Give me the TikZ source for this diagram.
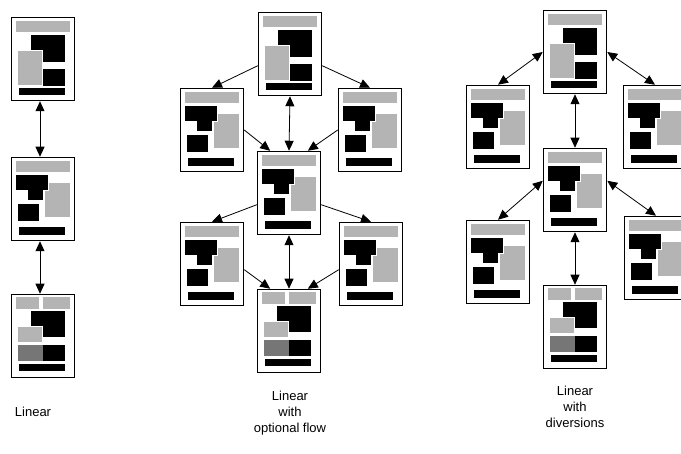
\documentclass[tikz,border=0pt]{standalone}
\usepackage{fontspec}
\setmainfont{Liberation Sans}
\usepackage{tikz}
\usetikzlibrary{arrows.meta}
\definecolor{lightshade}{RGB}{180,180,180}
\definecolor{darkshade}{RGB}{118,118,118}

% page contents, drawn from the page's top left corner (y runs down)
\newcommand{\layouta}[1]{%
    \begin{scope}[shift={(#1.north west)}]
        \fill[lightshade] (5,4) rectangle (59,15);
        \fill[black] (20,18) rectangle (54,45);
        \fill[black] (32,52) rectangle (54,69);
        \filldraw[fill=lightshade, draw=white, line width=0.6pt] (7,34) rectangle (32,69);
        \fill[black] (8,71) rectangle (54,78);
    \end{scope}}
\newcommand{\layoutb}[1]{%
    \begin{scope}[shift={(#1.north west)}]
        \fill[lightshade] (5,4) rectangle (59,15);
        \fill[lightshade] (34,26) rectangle (59,60);
        \filldraw[fill=black, draw=white, line width=0.6pt] (5,18) -| (38,34) -| (33,44) -| (17,34) -| cycle;
        \fill[black] (7,47) rectangle (28,64);
        \fill[black] (8,70) rectangle (54,78);
    \end{scope}}
\newcommand{\layoutc}[1]{%
    \begin{scope}[shift={(#1.north west)}]
        \fill[lightshade] (5,3) rectangle (28,15);
        \fill[lightshade] (32,3) rectangle (59,15);
        \fill[black] (20,17) rectangle (54,43);
        \filldraw[fill=lightshade, draw=white, line width=0.6pt] (7,33) rectangle (32,49);
        \fill[darkshade] (7,51) rectangle (32,67);
        \fill[black] (32,51) rectangle (54,67);
        \fill[black] (8,70) rectangle (54,77);
    \end{scope}}

\begin{document}
\begin{tikzpicture}[
    x=1pt, y=-1pt,
    page/.style={rectangle, draw, line width=1.5pt, fill=white, inner sep=0pt, minimum width=63pt, minimum height=83pt},
    link/.style={-{Triangle[length=10pt,width=9pt]}, line width=0.8pt},
    twoway/.style={{Triangle[length=10pt,width=9pt]}-{Triangle[length=10pt,width=9pt]}, line width=0.8pt},
    caption/.style={align=center, font=\fontsize{13}{16}\selectfont}
]
    \path[use as bounding box, clip] (0,0) rectangle (681,454);

    % linear
    \node[page] (lin1) at (43,59) {};
    \node[page] (lin2) at (43,199) {};
    \node[page] (lin3) at (43,336) {};
    \layouta{lin1}
    \layoutb{lin2}
    \layoutc{lin3}

    \draw[twoway] ([xshift=-3pt]lin1.south) -- ([xshift=-3pt]lin2.north);
    \draw[twoway] ([xshift=-3pt]lin2.south) -- ([xshift=-3pt]lin3.north);

    % linear with optional flow
    \node[page] (opt1) at (290,54) {};
    \node[page] (optl1) at (212,130) {};
    \node[page] (optr1) at (370,130) {};
    \node[page] (opt2) at (289,193) {};
    \node[page] (optl2) at (212,264) {};
    \node[page] (optr2) at (371,264) {};
    \node[page] (opt3) at (289,331) {};
    \layouta{opt1}
    \foreach \p in {optl1,optr1,opt2,optl2,optr2} {\layoutb{\p}}
    \layoutc{opt3}

    \draw[link] (opt1.200) -- (optl1.north);
    \draw[link] (opt1.-20) -- (optr1.north);
    \draw[twoway] (opt1.south) -- (opt2.north);
    \draw[link] (optl1.east) -- (opt2.114);
    \draw[link] (optr1.west) -- (opt2.66);
    \draw[link] (opt2.200) -- (optl2.north);
    \draw[link] (opt2.-20) -- (optr2.north);
    \draw[twoway] (opt2.south) -- (opt3.north);
    \draw[link] (optl2.-10) -- (opt3.114);
    \draw[link] (optr2.190) -- (opt3.66);

    % linear with diversions
    \node[page] (div1) at (575,52) {};
    \node[page] (divl1) at (498,127) {};
    \node[page] (divr1) at (655,127) {};
    \node[page] (div2) at (575,190) {};
    \node[page] (divl2) at (498,262) {};
    \node[page] (divr2) at (656,258) {};
    \node[page] (div3) at (575,327) {};
    \layouta{div1}
    \foreach \p in {divl1,divr1,div2,divl2,divr2} {\layoutb{\p}}
    \layoutc{div3}

    \draw[twoway] (div1.west) -- (divl1.north);
    \draw[twoway] (div1.east) -- (divr1.north);
    \draw[twoway] (div1.south) -- (div2.north);
    \draw[twoway] (div2.164) -- (divl2.north);
    \draw[twoway] (div2.16) -- (divr2.north);
    \draw[twoway] (div2.south) -- (div3.north);

    % captions
    \node[caption] (linlabel) at (33,412) {Linear};
    \node[caption] (optlabel) at (290,413) {Linear\\with\\optional flow};
    \node[caption] (divlabel) at (575,407) {Linear\\with\\diversions};
\end{tikzpicture}
\end{document}
